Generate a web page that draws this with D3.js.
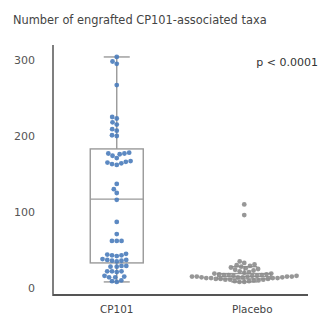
<!DOCTYPE html>
<html>
<head>
<meta charset="utf-8">
<script src="https://cdn.jsdelivr.net/npm/d3@7"></script>
<style>
  body { margin: 0; background: #fff; }
  text { font-family: "DejaVu Sans", Verdana, sans-serif; }
</style>
</head>
<body>
<div id="canvas"></div>
<script>
const groups = ["CP101", "Placebo"];
const yTicks = [0, 100, 200, 300];

const cp101Values = [304, 298, 295, 267, 225, 223, 218, 215, 209, 207, 201, 200,
  178, 177, 177, 176, 174, 171, 167, 166, 165, 164, 163, 162, 137, 130, 125, 116,
  87, 71, 62, 62, 62, 45, 44, 43, 43, 42, 38, 37, 37, 36, 36, 35, 29, 29, 28, 28,
  22, 22, 21, 22, 16, 15, 14, 14, 10, 9, 8];

const placeboValues = [110, 96, 35, 33, 31, 30, 29, 28, 27, 26, 25, 24, 23, 22, 21, 20,
  19, 19, 18, 18, 17, 17, 17, 16, 16, 16, 15, 15, 15, 15, 14, 14, 14, 14,
  13, 13, 13, 13, 12, 12, 12, 11, 11, 11, 10, 10, 9, 9, 8, 8, 16, 15];

// box stats: [low whisker, q1, median, q3, high whisker]
const cp101Box = [8, 33, 117, 183, 304];
const placeboBox = [8, 12, 15, 19, 28];

const colors = ["#4a7cbb", "#8c8c8c"];

const width = 319, height = 318;
const margin = { top: 45, left: 53, bottom: 23, right: 11 };

const svg = d3.select("#canvas").append("svg")
  .attr("width", width).attr("height", height);

svg.append("text")
  .attr("x", 13).attr("y", 24)
  .attr("font-size", 11.4).attr("fill", "#444")
  .text("Number of engrafted CP101-associated taxa");

const y = d3.scaleLinear().domain([0, 300]).range([288, 60]);
const x = d3.scaleBand().domain(groups).range([margin.left, width - margin.right]);

// axes
const yAxis = svg.append("g")
  .attr("transform", `translate(${margin.left},0)`)
  .call(d3.axisLeft(y).tickValues(yTicks).tickSize(0).tickPadding(18));
yAxis.select(".domain").attr("d", `M0,${margin.top}V${height - margin.bottom + 1}`)
  .attr("stroke", "#555").attr("stroke-width", 1.5);
yAxis.selectAll("text").attr("font-size", 11).attr("fill", "#555")
  .attr("font-family", "DejaVu Sans, sans-serif");

const xAxis = svg.append("g")
  .attr("transform", `translate(0,${height - margin.bottom})`)
  .call(d3.axisBottom(x).tickSize(0).tickPadding(11));
xAxis.select(".domain").attr("d", `M${margin.left},0H${width - margin.right}`)
  .attr("stroke", "#555").attr("stroke-width", 2);
xAxis.selectAll("text").attr("font-size", 10.4).attr("fill", "#444")
  .attr("font-family", "DejaVu Sans, sans-serif")
  .attr("dx", d => d === "Placebo" ? 8 : 0);

// box plots
const boxW = 53, capW = 26;
function drawBox(stats, name) {
  const cx = x(name) + x.bandwidth() / 2;
  const g = svg.append("g").attr("stroke", "#999").attr("stroke-width", 1.4).attr("fill", "none");
  g.append("line").attr("x1", cx).attr("x2", cx).attr("y1", y(stats[0])).attr("y2", y(stats[1]));
  g.append("line").attr("x1", cx).attr("x2", cx).attr("y1", y(stats[3])).attr("y2", y(stats[4]));
  g.append("line").attr("x1", cx - capW / 2).attr("x2", cx + capW / 2).attr("y1", y(stats[0])).attr("y2", y(stats[0]));
  g.append("line").attr("x1", cx - capW / 2).attr("x2", cx + capW / 2).attr("y1", y(stats[4])).attr("y2", y(stats[4]));
  g.append("rect").attr("x", cx - boxW / 2).attr("width", boxW)
    .attr("y", y(stats[3])).attr("height", y(stats[1]) - y(stats[3]));
  g.append("line").attr("x1", cx - boxW / 2).attr("x2", cx + boxW / 2).attr("y1", y(stats[2])).attr("y2", y(stats[2]));
}
drawBox(cp101Box, "CP101");
drawBox(placeboBox, "Placebo");

// beeswarm layout
const r = 2.4;
function swarm(values, cx) {
  const placed = [];
  const sorted = values.slice().sort((a, b) => a - b);
  sorted.forEach(v => {
    const py = y(v);
    const blocked = [];
    placed.forEach(p => {
      const dy = Math.abs(p.y - py);
      if (dy < 2 * r) {
        const dx = Math.sqrt(4 * r * r - dy * dy);
        blocked.push([p.x - dx, p.x + dx]);
      }
    });
    const cands = [cx];
    blocked.forEach(b => { cands.push(b[0], b[1]); });
    cands.sort((a, b) => Math.abs(a - cx) - Math.abs(b - cx));
    const px = cands.find(c => blocked.every(b => c <= b[0] + 1e-6 || c >= b[1] - 1e-6));
    placed.push({ x: px, y: py });
  });
  return placed;
}

[cp101Values, placeboValues].forEach((vals, i) => {
  const cx = x(groups[i]) + x.bandwidth() / 2;
  svg.append("g").selectAll("circle").data(swarm(vals, cx)).enter().append("circle")
    .attr("cx", d => d.x).attr("cy", d => d.y).attr("r", r)
    .attr("fill", colors[i]).attr("opacity", 0.9);
});

svg.append("text")
  .attr("x", 318).attr("y", 66).attr("text-anchor", "end")
  .attr("font-size", 11).attr("fill", "#333")
  .text("p < 0.0001");
</script>
</body>
</html>
